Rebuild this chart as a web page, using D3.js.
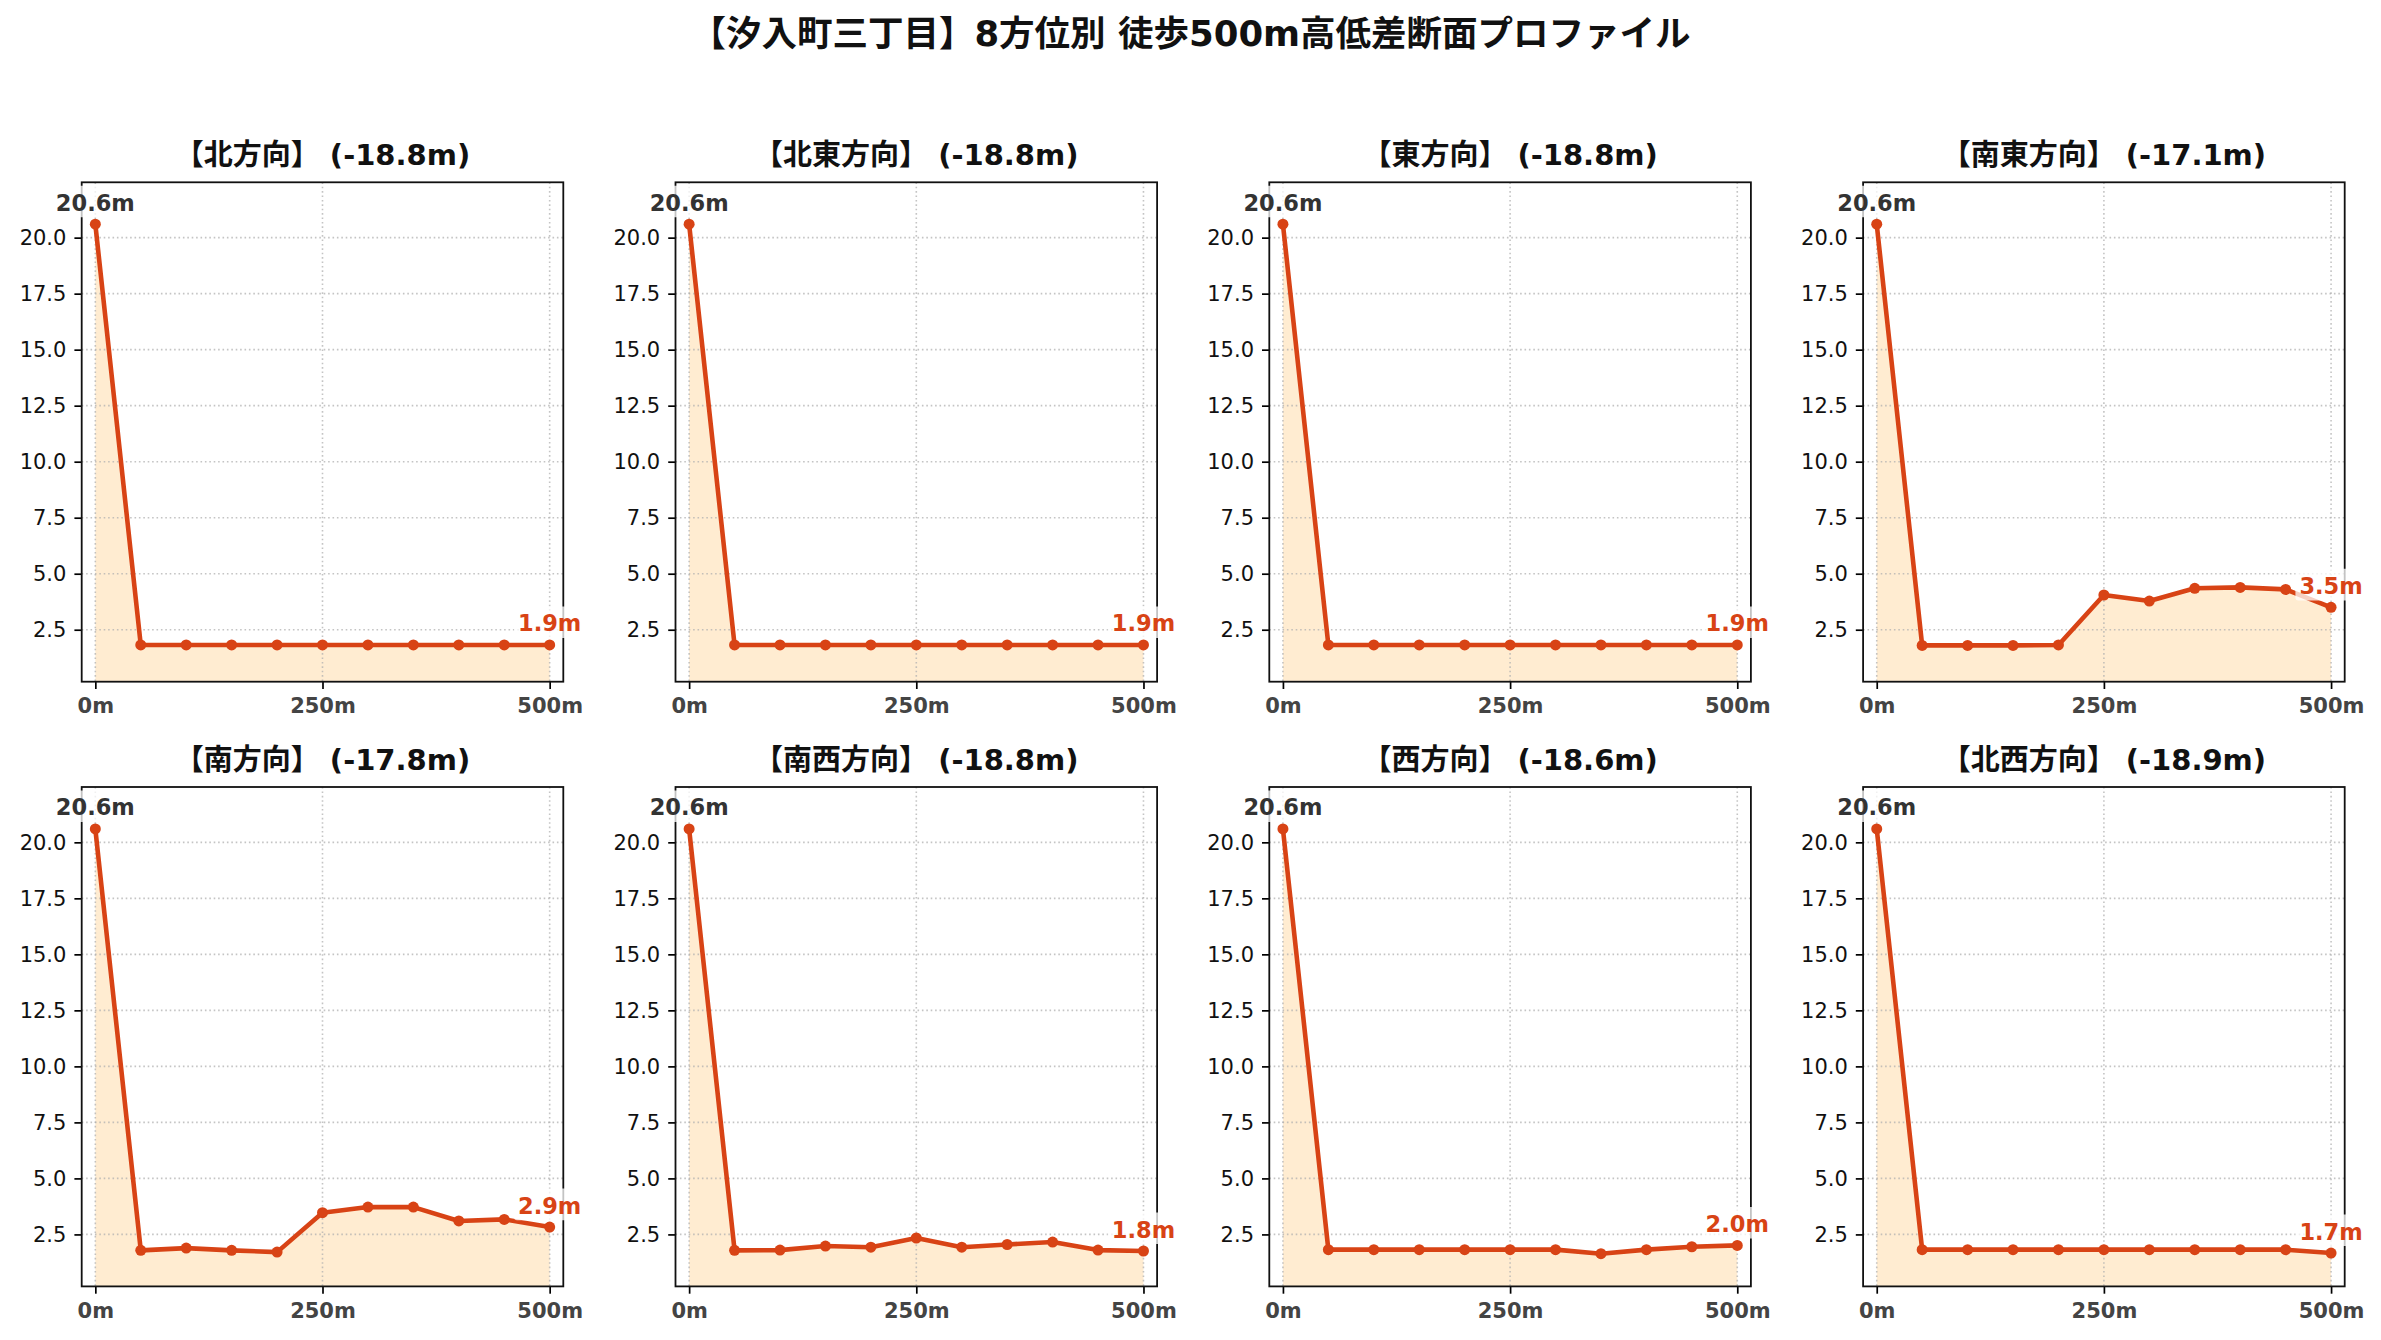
<!DOCTYPE html>
<html>
<head>
<meta charset="utf-8">
<script src="https://cdn.jsdelivr.net/npm/d3@7"></script>
<style>
  html, body { margin: 0; padding: 0; background: #ffffff; }
  svg { display: block; }
  text { font-family: 'DejaVu Sans', 'Noto Sans CJK JP', sans-serif; }
</style>
</head>
<body>
<div id="chart"></div>
<script>
// ---------------- data ----------------
const mainTitle = "【汐入町三丁目】8方位別 徒歩500m高低差断面プロファイル";
const directions = ["北方向", "北東方向", "東方向", "南東方向", "南方向", "南西方向", "西方向", "北西方向"];
const diffLabels = ["-18.8m", "-18.8m", "-18.8m", "-17.1m", "-17.8m", "-18.8m", "-18.6m", "-18.9m"];
const startLabels = ["20.6m", "20.6m", "20.6m", "20.6m", "20.6m", "20.6m", "20.6m", "20.6m"];
const endLabels = ["1.9m", "1.9m", "1.9m", "3.5m", "2.9m", "1.8m", "2.0m", "1.7m"];
const distances = [0, 50, 100, 150, 200, 250, 300, 350, 400, 450, 500];

const elevNorth     = [20.6, 1.82, 1.82, 1.82, 1.82, 1.82, 1.82, 1.82, 1.82, 1.82, 1.82];
const elevNorthEast = [20.6, 1.82, 1.82, 1.82, 1.82, 1.82, 1.82, 1.82, 1.82, 1.82, 1.82];
const elevEast      = [20.6, 1.82, 1.82, 1.82, 1.82, 1.82, 1.82, 1.82, 1.82, 1.82, 1.82];
const elevSouthEast = [20.6, 1.80, 1.80, 1.80, 1.82, 4.05, 3.78, 4.35, 4.39, 4.30, 3.50];
const elevSouth     = [20.6, 1.79, 1.89, 1.79, 1.71, 3.47, 3.72, 3.72, 3.10, 3.17, 2.83];
const elevSouthWest = [20.6, 1.79, 1.80, 1.98, 1.93, 2.34, 1.93, 2.05, 2.16, 1.80, 1.76];
const elevWest      = [20.6, 1.82, 1.82, 1.82, 1.82, 1.82, 1.82, 1.64, 1.82, 1.95, 2.01];
const elevNorthWest = [20.6, 1.82, 1.82, 1.82, 1.82, 1.82, 1.82, 1.82, 1.82, 1.82, 1.67];

const yTicks = [2.5, 5.0, 7.5, 10.0, 12.5, 15.0, 17.5, 20.0];
const xTicks = [0, 250, 500];
const xTickLabels = ["0m", "250m", "500m"];

const series = [elevNorth, elevNorthEast, elevEast, elevSouthEast, elevSouth, elevSouthWest, elevWest, elevNorthWest];

// ---------------- layout ----------------
const W = 2381, H = 1340;
const panelW = 481.6, panelH = 499.4;
const left0 = 81.7, top0 = 182.3, dxPanel = 593.8, dyPanel = 604.7;

const lineColor = "#D84315";

const svg = d3.select("#chart").append("svg")
  .attr("width", W).attr("height", H)
  .attr("viewBox", `0 0 ${W} ${H}`);
svg.append("rect").attr("width", W).attr("height", H).attr("fill", "#ffffff");

svg.append("text")
  .attr("x", W / 2).attr("y", 45.5)
  .attr("text-anchor", "middle")
  .attr("font-size", 35.5).attr("font-weight", "bold")
  .attr("fill", "#111")
  .text(mainTitle);

const x = d3.scaleLinear().domain([-15, 515]).range([0, panelW]);
const y = d3.scaleLinear().domain([0.18, 22.47]).range([panelH, 0]);

series.forEach((vals, i) => {
  const col = i % 4, row = Math.floor(i / 4);
  const g = svg.append("g")
    .attr("transform", `translate(${left0 + col * dxPanel},${top0 + row * dyPanel})`);

  const pts = distances.map((d, k) => ({ d, v: vals[k] }));

  const clipId = "clip" + i;
  g.append("clipPath").attr("id", clipId)
    .append("rect").attr("width", panelW).attr("height", panelH);

  const plot = g.append("g").attr("clip-path", `url(#${clipId})`);

  // fill
  plot.append("path")
    .datum(pts)
    .attr("d", d3.area().x(p => x(p.d)).y0(panelH).y1(p => y(p.v)))
    .attr("fill", "#FFE0B2").attr("fill-opacity", 0.6);

  // grid
  plot.selectAll(".gy").data(yTicks).join("line")
    .attr("x1", 0).attr("x2", panelW)
    .attr("y1", d => y(d)).attr("y2", d => y(d))
    .attr("stroke", "#b0b0b0").attr("stroke-opacity", 0.75)
    .attr("stroke-width", 1.6).attr("stroke-dasharray", "1.6,2.8");
  plot.selectAll(".gx").data(xTicks).join("line")
    .attr("y1", 0).attr("y2", panelH)
    .attr("x1", d => x(d)).attr("x2", d => x(d))
    .attr("stroke", "#b0b0b0").attr("stroke-opacity", 0.75)
    .attr("stroke-width", 1.6).attr("stroke-dasharray", "1.6,2.8");

  // line
  plot.append("path")
    .datum(pts)
    .attr("d", d3.line().x(p => x(p.d)).y(p => y(p.v)))
    .attr("fill", "none").attr("stroke", lineColor)
    .attr("stroke-width", 4.6).attr("stroke-linejoin", "round");
  plot.selectAll(".pt").data(pts).join("circle")
    .attr("cx", p => x(p.d)).attr("cy", p => y(p.v)).attr("r", 5.5)
    .attr("fill", lineColor);

  // axes
  const yAxis = d3.axisLeft(y).tickValues(yTicks).tickFormat(d3.format(".1f"))
    .tickSize(7.3).tickPadding(8);
  const ya = g.append("g").call(yAxis);
  ya.select(".domain").remove();
  ya.selectAll(".tick line").attr("stroke", "#000").attr("stroke-width", 1.7);
  ya.selectAll(".tick text").attr("font-size", 21).attr("fill", "#111")
    .attr("font-family", "'DejaVu Sans', sans-serif");

  const xAxis = d3.axisBottom(x).tickValues(xTicks).tickFormat((d, k) => xTickLabels[k])
    .tickSize(7.3).tickPadding(9);
  const xa = g.append("g").attr("transform", `translate(0,${panelH})`).call(xAxis);
  xa.select(".domain").remove();
  xa.selectAll(".tick line").attr("stroke", "#000").attr("stroke-width", 1.7);
  xa.selectAll(".tick text").attr("font-size", 21).attr("font-weight", "bold")
    .attr("fill", "#444").attr("font-family", "'DejaVu Sans', sans-serif");

  // spines
  g.append("rect").attr("width", panelW).attr("height", panelH)
    .attr("fill", "none").attr("stroke", "#111").attr("stroke-width", 1.8);

  // panel title
  g.append("text")
    .attr("x", panelW / 2).attr("y", -17)
    .attr("text-anchor", "middle")
    .attr("font-size", 29).attr("font-weight", "bold").attr("fill", "#111")
    .text(`【${directions[i]}】 (${diffLabels[i]})`);

  // labels
  function label(p, txt, color) {
    const lg = g.append("g");
    const t = lg.append("text")
      .attr("x", x(p.d)).attr("y", y(p.v) - 13.5)
      .attr("text-anchor", "middle")
      .attr("font-size", 22.5).attr("font-weight", "bold")
      .attr("fill", color)
      .attr("font-family", "'DejaVu Sans', sans-serif")
      .text(txt);
    const bb = t.node().getBBox();
    lg.insert("rect", "text")
      .attr("x", bb.x - 4).attr("y", y(p.v) - 13.5 - 25)
      .attr("width", bb.width + 8).attr("height", 31.6)
      .attr("rx", 3)
      .attr("fill", "#ffffff").attr("fill-opacity", 0.75);
  }
  label(pts[0], startLabels[i], "#333333");
  label(pts[pts.length - 1], endLabels[i], lineColor);
});
</script>
</body>
</html>
